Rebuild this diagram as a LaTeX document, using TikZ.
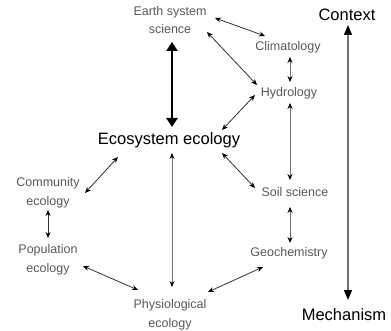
\documentclass[tikz,border=0pt]{standalone}
\usepackage{fontspec}
\setmainfont{Liberation Sans}
\usetikzlibrary{arrows.meta,calc}
\begin{document}
\begin{tikzpicture}[x=1pt,y=-1pt,
  small/.style={font=\fontsize{12.5}{18.5}\selectfont, text=black!65, align=center, inner sep=2pt},
  big/.style={font=\fontsize{16.5}{19}\selectfont, text=black, inner sep=2pt},
  conn/.style={{Stealth[length=6pt,width=5pt,color=black]}-{Stealth[length=6pt,width=5pt,color=black]}, draw=black!80, line width=0.8pt},
  vconn/.style={conn, draw=black!55},
  thick arrow/.style={{Triangle[length=9pt,width=11pt]}-{Triangle[length=9pt,width=11pt]}, draw=black, line width=2.6pt},
  axis arrow/.style={{Triangle[length=10pt,width=8pt,color=black]}-{Triangle[length=10pt,width=8pt,color=black]}, draw=black!55, line width=1.4pt}
]
\useasboundingbox (0,0) rectangle (391,331);
\node[small] (earth) at (170,20) {Earth system\\science};
\node[small] (clim) at (288,47) {Climatology};
\node[small] (hydro) at (289,93) {Hydrology};
\node[small] (soil) at (295,192) {Soil science};
\node[small] (geo) at (289,253) {Geochemistry};
\node[small] (phys) at (170,315) {Physiological\\ecology};
\node[small] (pop) at (48,260) {Population\\ecology};
\node[small] (comm) at (48,193) {Community\\ecology};
\node[big] (eco) at (169,140) {Ecosystem ecology};
\node[big] (ctx) at (347,15) {Context};
\node[big] (mech) at (344,315) {Mechanism};

\draw[thick arrow] ($(earth)+(2,22)$) -- ($(eco)+(3,-13)$);
\draw[axis arrow] ($(ctx)+(1,10)$) -- ($(ctx)+(1,285)$);
\draw[conn] ($(earth)+(45,-2)$) -- ($(clim)+(-23,-11)$);
\draw[conn] ($(earth)+(37,12)$) -- ($(hydro)+(-32,-8)$);
\draw[conn] ($(hydro)+(-34,2)$) -- ($(eco)+(53,-10)$);
\draw[conn] ($(eco)+(53,13)$) -- ($(soil)+(-40,-4)$);
\draw[conn] ($(eco)+(-51,17)$) -- ($(comm)+(37,0)$);
\draw[conn] ($(pop)+(35,6)$) -- ($(phys)+(-32,-25)$);
\draw[conn] ($(geo)+(-26,14)$) -- ($(phys)+(38,-23)$);
\draw[conn] ($(comm)+(0,17)$) -- ($(pop)+(0,-22)$);
\draw[vconn] ($(clim)+(2,10)$) -- ($(hydro)+(1,-11)$);
\draw[vconn] ($(hydro)+(1,10)$) -- ($(soil)+(-5,-12)$);
\draw[vconn] ($(soil)+(-5,15)$) -- ($(geo)+(1,-10)$);
\draw[vconn] ($(eco)+(3,13)$) -- ($(phys)+(2,-28)$);
\end{tikzpicture}
\end{document}
